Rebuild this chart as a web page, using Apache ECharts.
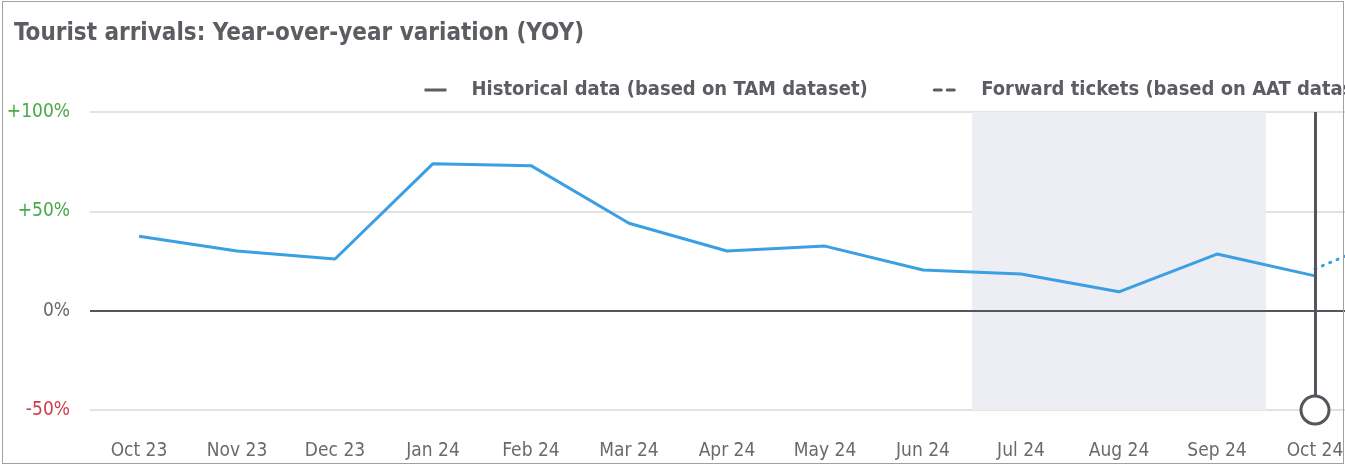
<!DOCTYPE html>
<html>
<head>
<meta charset="utf-8">
<script src="https://cdn.jsdelivr.net/npm/echarts@6/dist/echarts.min.js"></script>
<style>
  html, body { margin: 0; padding: 0; width: 1345px; height: 467px; overflow: hidden; background: #fff; }
  #chart { position: absolute; left: 0; top: 0; width: 1482px; height: 467px; }
  #frame { position: absolute; left: 2px; top: 1px; width: 1340px; height: 461px; border: 1px solid #a0a0a0; pointer-events: none; }
</style>
</head>
<body>
<div id="chart"></div>
<div id="frame"></div>
<script>
// months on the x axis (the picture is cut off after Oct 24)
const months = ['Oct 23', 'Nov 23', 'Dec 23', 'Jan 24', 'Feb 24', 'Mar 24', 'Apr 24',
                'May 24', 'Jun 24', 'Jul 24', 'Aug 24', 'Sep 24', 'Oct 24', 'Nov 24'];
// YOY variation in %, historical (TAM)
const historical = [37.5, 30, 26, 74, 73, 44, 30, 32.5, 20.5, 18.5, 9.5, 28.5, 17.5, null];
// forward tickets (AAT)
const forward = [null, null, null, null, null, null, null, null, null, null, null, null, 21, 42];
// shaded period
const shadeFrom = 'Jul 24';
const shadeTo = 'Sep 24';
// current month marker
const currentMonth = 'Oct 24';
// y ticks
const yMin = -50, yMax = 100, yStep = 50;

const FONT = '"Liberation Sans Narrow", "DejaVu Sans Condensed", Roboto, sans-serif';
const GREY = '#5b5d63';
const MARK = '#55565c';

const chart = echarts.init(document.getElementById('chart'));
chart.setOption({
    animation: false,
    textStyle: { fontFamily: FONT },
    title: {
        text: 'Tourist arrivals: Year-over-year variation (YOY)',
        left: 9, top: 17,
        textStyle: { fontFamily: FONT, fontSize: 24, fontWeight: 'bold', color: GREY }
    },
    legend: {
        left: 418, top: 75,
        itemWidth: 22, itemHeight: 14, itemGap: 65,
        textStyle: { fontFamily: FONT, fontSize: 20, fontWeight: 'bold', color: GREY, padding: [0, 0, 0, 20] },
        data: [
            { name: 'Historical data (based on TAM dataset)', itemStyle: { opacity: 0 },
              lineStyle: { color: GREY, width: 3 } },
            { name: 'Forward tickets (based on AAT dataset)', itemStyle: { opacity: 0 },
              lineStyle: { color: GREY, width: 3, type: [7, 6] } }
        ]
    },
    grid: { left: 90, right: 20, top: 112, bottom: 57 },
    xAxis: {
        type: 'category',
        data: months,
        boundaryGap: true,
        axisLine: { show: false },
        axisTick: { show: false },
        axisLabel: { color: '#6a6a6a', fontSize: 19, margin: 32, fontFamily: FONT }
    },
    yAxis: {
        type: 'value',
        min: yMin, max: yMax, interval: yStep,
        axisLine: { show: false },
        axisTick: { show: false },
        splitLine: { lineStyle: { color: '#e2e2e2', width: 2 } },
        axisLabel: {
            margin: 20,
            formatter: function (v) {
                if (v > 0) return '{pos|+' + v + '%}';
                if (v < 0) return '{neg|' + v + '%}';
                return '{zero|0%}';
            },
            rich: {
                pos: { color: '#4aa84a', fontSize: 19, fontFamily: FONT },
                neg: { color: '#d23c4a', fontSize: 19, fontFamily: FONT },
                zero: { color: '#6a6a6a', fontSize: 19, fontFamily: FONT }
            }
        }
    },
    series: [
        {
            name: 'shade',
            type: 'bar',
            data: [],
            silent: true,
            markArea: {
                silent: true,
                itemStyle: { color: '#eceef4' },
                data: [[{ xAxis: shadeFrom }, { xAxis: shadeTo }]]
            }
        },
        {
            name: 'Historical data (based on TAM dataset)',
            type: 'line',
            data: historical,
            symbol: 'none',
            z: 3,
            lineStyle: { color: '#3b9fe3', width: 3 },
            itemStyle: { color: '#3b9fe3' },
            markLine: {
                silent: true,
                symbol: 'none',
                label: { show: false },
                data: [
                    { yAxis: 0, lineStyle: { color: MARK, width: 2, type: 'solid' } },
                    { xAxis: currentMonth, lineStyle: { color: MARK, width: 3, type: 'solid' } }
                ]
            }
        },
        {
            name: 'Forward tickets (based on AAT dataset)',
            type: 'line',
            data: forward,
            symbol: 'none',
            z: 4,
            lineStyle: { color: '#3b9fe3', width: 3, type: [1, 7], cap: 'round' },
            itemStyle: { color: '#3b9fe3' },
            markPoint: {
                silent: true,
                symbol: 'circle',
                symbolSize: 28,
                label: { show: false },
                itemStyle: { color: '#ffffff', borderColor: MARK, borderWidth: 3 },
                data: [{ coord: [currentMonth, yMin] }]
            }
        }
    ]
});
</script>
</body>
</html>
